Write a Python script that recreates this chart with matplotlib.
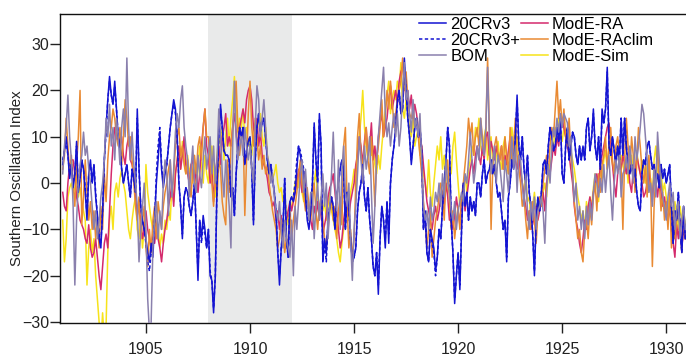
import numpy as np
import matplotlib
matplotlib.use("Agg")
import matplotlib.pyplot as plt

plt.rcParams['font.family'] = ['Liberation Sans', 'DejaVu Sans']

start_year = 1901
shade_span = (1908, 1912)
xticks = [1905, 1910, 1915, 1920, 1925, 1930]
yticks = [-30, -20, -10, 0, 10, 20, 30]
ylabel = "Southern Oscillation Index"

cr3 = [
    4, 7, 10, 6, 1, 4, -1, 2, 9, -2, 1, 5,
    3, -2, -8, 2, 5, 0, 4, -3, -7, -12, -14, -6,
    5, 12, 18, 23, 19, 17, 22, 16, 10, 8, 3, 0,
    2, 4, 0, -3, 3, 1, -2, 16, 3, -5, -8, -10,
    -12, -15, -17, -13, -16, -8, 0, 5, 11, 3, -1, 2,
    4, 8, 12, 15, 18, 16, 10, 0, -5, -12, -3, -1,
    -2, -5, -7, -4, 0, -10, -21, -8, -12, -7, -10, -14,
    -10, -20, -21, -28, -20, 0, 10, 17, 12, 7, 6, 6,
    5, -3, -1, -7, 2, 8, 12, 10, 12, 4, 7, 9,
    10, 3, -9, 5, 12, 15, 11, 13, 14, 10, 5, 2,
    4, 1, -2, -6, -15, -22, -14, -10, 1, -12, -16, -4,
    -3, -4, -2, 3, 8, 6, 4, 2, -3, -8, -10, -6,
    0, 13, 5, 0, 15, 8, -17, -12, -15, -8, -5, -3,
    -5, -10, -3, 0, 3, 5, 3, -10, -2, -5, -12, -17,
    -16, -14, -6, -2, 0, 4, -3, -6, -1, -8, -12, -18,
    -20, -15, -24, -12, -5, -8, -14, -4, -13, 0, 5, 8,
    12, 18, 20, 15, 16, 27, 20, 14, 10, 4, 8, 12,
    14, 10, 12, 7, -10, -6, -15, -17, -10, -12, -14, -19,
    -16, -10, -12, -5, 0, 5, 12, 8, -8, -15, -26, -20,
    -15, -23, -10, 0, -5, -2, -8, -3, -6, -4, -7, 0,
    0, -3, 2, 5, 0, 2, 3, 5, 2, 4, 0, -3,
    -2, -6, -10, -8, -17, -3, 0, 5, 3, 10, 19, 8,
    5, 10, 3, 0, 6, -2, -5, -11, -20, -8, -3, -6,
    -2, 4, 5, 2, 8, 12, 10, 7, 8, 12, 9, 14,
    2, 0, 8, 12, 5, 8, 11, 10, 6, 4, 8, 5,
    8, 5, 12, 14, 7, 10, 16, 8, 5, 10, 3, 16,
    13, 16, 25, 8, 6, 10, 7, 4, 8, 5, 14, 6,
    14, 8, 3, 2, 4, 1, 3, -2, -5, -6, 2, 5,
    4, 8, 9, 6, 3, 4, 0, 2, -1, 4, 1, 3,
    0, 2, 4, -5, -13, -6, -8, -2, -10, -15, -5, -12,
]

cr3p = [
    5, 7, 9, 6, 2, 4, 0, 2, 8, -1, 1, 5,
    3, -1, -7, 2, 4, 0, 4, -2, -7, -11, -13, -6,
    5, 11, 18, 22, 19, 17, 21, 16, 10, 8, 3, 0,
    2, 4, 0, -3, 3, 1, -2, 14, 3, -5, -8, -10,
    -13, -17, -19, -15, -14, -8, 2, 8, 12, 4, 0, 3,
    4, 8, 12, 15, 17, 15, 10, 0, -5, -11, -3, -1,
    -2, -5, -7, -4, 0, -10, -19, -8, -13, -9, -11, -14,
    -10, -19, -21, -27, -20, 0, 10, 16, 12, 7, 6, 6,
    5, -3, -1, -7, 2, 8, 12, 10, 12, 4, 7, 9,
    10, 3, -8, 5, 12, 15, 11, 13, 14, 10, 5, 2,
    4, 1, -2, -6, -15, -20, -14, -10, 1, -12, -16, -4,
    -3, -3, 0, 5, 8, 7, 5, 3, -2, -7, -9, -5,
    0, 12, 5, 0, 14, 8, -17, -13, -17, -8, -5, -3,
    -5, -10, -3, 0, 3, 5, 3, -10, -2, -5, -12, -17,
    -16, -14, -6, -2, 0, 4, -3, -6, -1, -8, -12, -18,
    -20, -15, -22, -12, -5, -8, -12, -4, -11, 0, 5, 8,
    12, 17, 20, 15, 16, 25, 20, 14, 10, 5, 8, 12,
    14, 10, 12, 7, -10, -6, -15, -17, -10, -13, -15, -20,
    -16, -10, -12, -5, 0, 5, 12, 8, -8, -15, -25, -20,
    -15, -22, -10, 0, -5, -2, -8, -3, -6, -4, -7, 0,
    0, -3, 2, 5, 0, 2, 3, 5, 2, 4, 0, -3,
    -2, -6, -10, -8, -16, -3, 0, 5, 3, 10, 18, 8,
    5, 10, 3, 0, 6, -2, -5, -11, -19, -8, -3, -6,
    -2, 4, 5, 2, 8, 12, 10, 7, 8, 12, 9, 14,
    2, 0, 8, 12, 5, 8, 11, 10, 6, 4, 8, 5,
    8, 5, 12, 14, 7, 10, 15, 8, 5, 10, 3, 15,
    13, 16, 24, 8, 6, 10, 7, 4, 8, 5, 14, 6,
    14, 8, 3, 2, 4, 1, 3, -2, -5, -6, 2, 5,
    4, 8, 9, 6, 3, 4, 0, 2, -1, 4, 1, 3,
    0, 2, 4, -5, -13, -6, -8, -2, -10, -15, -5, -12,
]

bom = [
    2, 8, 12, 19, 10, 5, -5, -22, -8, 0, 4, 6,
    11, 6, 8, 3, 0, -5, -10, -6, -12, -8, -3, 0,
    5, 14, 10, 17, 8, 12, 5, 14, 10, 4, 12, 16,
    10, 27, 12, 5, 11, 4, 0, -5, -17, -10, -5, 0,
    -10, -25, -32, -30, -14, -8, -4, -12, -6, -10, 0, 5,
    2, -7, 5, -3, 3, 11, 15, 12, 18, 21, 12, 8,
    5, -3, 3, 8, 0, -2, 6, 2, -1, 5, 10, 3,
    6, 10, 2, 8, 0, 5, 16, 10, 2, -3, 5, 0,
    -5, -14, 8, 22, 10, 5, 8, 10, 6, 12, 8, 5,
    8, 3, 0, 12, 21, 18, 10, 14, 18, 12, 6, 4,
    0, 2, -3, -6, -8, -4, -10, -14, -8, -12, -14, -16,
    -8, -20, -5, -10, -4, 2, 5, -2, 3, -3, -8, -2,
    -2, -12, -5, 0, -8, -3, 2, -5, 0, -12, -5, 2,
    11, 0, -6, 5, -10, 3, 8, -2, -5, 0, -12, -21,
    -10, -5, 2, 10, 5, 0, 8, 3, 6, 10, -2, -13,
    -5, 5, 10, 15, 20, 25, 15, 10, 13, 8, 12, 15,
    10, 15, 8, 12, 20, 26, 18, 20, 15, 11, 18, 12,
    14, 10, 15, 5, -5, -8, -6, -10, -3, -8, -6, -2,
    -4, 0, -5, 2, -3, 5, 0, -2, -6, -8, -4, -10,
    -6, -4, -2, -4, 2, 0, 5, 11, 5, 0, 3, 8,
    5, 14, 8, 6, 12, 25, 10, 2, 5, 8, 0, 6,
    4, 0, -4, 5, 2, -2, 5, 10, 3, 8, -2, 6,
    5, 0, -5, 2, -6, -10, -4, -8, -3, -10, -6, -5,
    -3, -6, -13, -2, 4, 0, 8, 12, 10, 14, 11, 15,
    12, 15, 14, 13, 8, 10, 2, -4, 0, -8, -5, -10,
    -6, -12, -5, -9, -4, -8, -2, 2, 0, -3, 1, -2,
    4, -2, 3, 6, -2, -8, 0, 5, 2, 6, -3, 2,
    3, 6, 2, 8, 4, 0, 10, 5, 8, 12, 17, 15,
    10, 5, -2, 0, -5, 3, -3, 11, 5, 0, -3, -5,
    -8, -3, 0, -5, -2, -10, -6, -4, -12, -8, -5, -10,
]

mode_ra = [
    -2, -5, -6, 0, 4, 5, 5, 2, -3, -5, -8, -9,
    -10, -12, -13, -9, -14, -16, -15, -12, -16, -20, -23, -18,
    -13, -11, -14, -6, 2, 8, 12, 10, 9, 8, 10, 6,
    4, 8, 10, 5, 4, 2, -3, -7, -5, -8, -12, -10,
    -6, -10, -12, -14, -11, -13, -9, -12, -14, -17, -13, -10,
    -8, -5, -3, 0, -5, 2, 5, 8, 3, 6, 10, 4,
    2, 0, 4, 5, 0, 3, -2, 2, 8, 12, 16, 8,
    6, 0, 3, -4, 2, 5, 8, 4, 10, 12, 15, 8,
    10, 8, 12, 15, 11, 7, 12, 14, 16, 13, 18, 20,
    21, 18, 12, 10, 14, 8, 11, 6, 4, 3, 1, -2,
    -3, -5, -4, -8, -6, -10, -7, -11, -9, -8, -6, -4,
    -6, -4, -2, 0, 3, 1, -2, 2, 0, -3, -6, -8,
    -10, -5, -7, -4, -8, -5, -11, -9, -7, -3, -1, 0,
    2, -2, -6, -10, -14, -12, -8, -5, -3, -7, -4, -2,
    0, 4, 6, 10, 8, 4, 9, 12, 6, 8, 13, 5,
    8, 4, 10, 13, 15, 10, 12, 14, 18, 21, 16, 18,
    20, 17, 22, 24, 25, 22, 18, 20, 16, 19, 14, 17,
    15, 12, 10, 8, 4, 0, -4, -6, -8, -10, -7, -5,
    -8, -6, -3, -2, -5, 0, -3, -8, -5, -10, -7, -3,
    -6, -9, -4, -2, -6, -3, 0, 3, 5, 2, 6, 8,
    6, 4, 8, 5, 10, 11, 6, 9, 7, 5, 8, 6,
    5, 8, 3, 6, 4, 7, 10, 6, 8, 5, 3, 6,
    2, 0, -3, -5, -8, -6, -10, -7, -9, -5, -8, -6,
    -4, -2, -6, 0, 3, 2, 5, 8, 6, 10, 8, 12,
    14, 12, 10, 8, 6, 3, 0, -5, -8, -10, -13, -15,
    -12, -8, -10, -5, -3, -6, -2, 0, 2, -1, 4, 6,
    8, 10, 12, 13, 9, 4, 0, -3, 2, 5, 3, 6,
    4, 2, 5, 0, -2, 3, 1, 6, 4, 2, 0, -3,
    -2, 0, 3, -1, -4, 2, 0, -3, 1, -2, -5, -3,
    -6, -8, -5, -10, -13, -16, -9, -12, -8, -14, -10, -12,
]

mode_raclim = [
    3, 6, 14, 8, 2, 6, 0, -5, 4, 10, 20, -9,
    -3, 5, -2, -8, -4, -10, -6, -12, -8, -14, -5, -10,
    2, -4, 5, 10, 12, 16, 14, 10, 8, 12, 4, 10,
    18, 14, 8, 10, 5, 0, -5, -8, -3, -12, -8, -5,
    -14, -18, -10, -15, -8, -5, -12, -4, -7, -10, -5, -2,
    0, 3, 5, -3, 2, 8, 10, 12, 6, 8, 4, 2,
    5, 0, -3, 3, 6, 2, 8, 10, 5, 12, 16, 10,
    10, 4, 0, -5, 2, -3, 5, 3, -4, -7, -9, 5,
    -2, 8, 12, 18, 22, 12, 6, 10, 12, -7, 5, 15,
    22, 12, 8, 14, 10, 5, 8, 3, 6, 2, 4, 0,
    -3, -6, -8, -10, -14, -12, -8, -10, -15, -12, -13, -6,
    -12, -8, -5, -2, 2, 5, 0, -3, -6, -1, -5, -8,
    -4, 0, -6, -10, -5, -3, -8, -12, -14, -10, -6, -3,
    -8, -5, -12, -6, -3, -9, 8, 12, -5, -14, -10, -16,
    -12, 0, 10, 15, 6, 3, 8, 12, 5, 2, 10, 4,
    -5, 5, 8, 12, 18, 10, 14, 20, 16, 22, 18, 12,
    15, 18, 20, 22, 27, 20, 24, 18, 15, 14, 16, 12,
    14, 10, 6, 2, -4, -8, -14, -10, -6, -16, -12, -8,
    -6, -3, 0, -2, -8, 2, 5, -4, -10, -6, -12, -8,
    -5, -10, -3, 0, 4, 8, 14, 10, 13, 6, 10, 12,
    8, 14, 10, 6, 12, 27, 12, -10, 4, 8, 10, 6,
    5, 8, 3, 10, 6, 2, 12, 4, 8, 14, 6, 3,
    0, -5, -3, -8, -12, -6, -10, -4, -8, -13, -6, -3,
    -5, 0, 3, 6, 2, 8, 12, 10, 16, 22, 14, 18,
    12, 16, 10, 8, 14, 6, 2, -4, -8, -12, -10, -15,
    -17, -10, -8, -12, -5, -9, -3, 0, -6, 2, -2, 4,
    6, 10, 3, 8, 12, 5, 2, 8, 10, 6, 3, -10,
    5, 14, 8, 2, 10, 6, -2, 4, 12, 8, 3, 0,
    4, -3, 6, 0, -18, -5, 2, 8, 0, -6, -2, -8,
    -4, -10, -2, -14, -6, -12, -8, -4, -10, -15, -6, -12,
]

mode_sim = [
    -8, -17, -12, -3, -1, 0, -2, -1, 2, -3, -1, -4,
    -6, -8, -22, -14, -10, -15, -12, -20, -25, -30, -35, -28,
    -34, -31, -15, -8, -5, -10, -2, 0, -3, 1, 3, 0,
    -2, -6, -10, -12, -8, -5, -3, -10, -12, -8, -14, -10,
    4, -2, -5, -8, -10, -6, -12, -9, -14, -11, -13, -8,
    -10, -6, -8, 0, -4, 2, 5, 8, 3, 9, 5, 2,
    6, 2, 4, 0, 5, -2, 3, 8, 4, 0, 6, 2,
    0, 5, 8, 2, -3, 6, 10, 8, 12, 5, 10, 14,
    8, 14, 18, 23, 16, 11, 14, 12, 16, 10, 12, 8,
    10, 6, 12, 8, 11, 14, 15, 10, 8, 12, 6, 4,
    3, 1, 2, 4, 0, -2, -1, -4, -3, -6, -9, -5,
    -5, -3, 0, 2, -1, 3, -2, -4, 0, -3, -6, -4,
    -2, 0, 3, -5, -7, -3, -6, -4, -8, -5, -2, -6,
    -8, -10, -12, -15, -17, -13, -10, -6, -3, -8, -2, 0,
    3, -2, 6, 10, 14, 20, 12, 8, 5, 10, 6, 8,
    4, 2, 6, 3, 8, 12, 16, 19, 22, 15, 18, 20,
    18, 22, 20, 26, 16, 14, 18, 15, 12, 10, 14, 8,
    10, 12, 6, 8, 2, 0, -3, 5, -2, -5, 0, 4,
    8, 5, 10, 3, 6, 0, -2, 4, 2, 8, 11, 5,
    0, -5, -3, -1, 2, -2, 3, 5, 8, 6, 12, 10,
    14, 8, 6, 10, 12, 5, 8, 10, 4, 2, 6, 9,
    5, 3, 8, 10, 4, 2, 6, 12, 8, 5, 10, 6,
    3, 0, -2, 2, -4, -3, -8, -5, -2, -6, -4, -3,
    -5, -2, 0, -3, 2, 4, 6, 8, 12, 10, 14, 11,
    9, 12, 10, 8, 11, 7, 5, 3, 0, -3, -5, -8,
    -6, -10, -4, -7, -3, -5, -1, 2, 0, -4, 3, 1,
    5, 7, 3, 9, 6, 4, 2, 5, 8, 3, 6, 4,
    2, 5, 0, 4, 6, 3, 1, 7, 4, 2, 5, 3,
    0, 4, -2, 1, -3, 5, 8, 2, -1, 3, -2, 0,
    -3, -6, -2, -5, -8, -4, -7, -10, -5, -8, -6, -9,
]

series = [
    ("20CRv3", cr3, "#1414d2", "-", 1.1, 6),
    ("20CRv3+", cr3p, "#1414d2", (0, (2.2, 1.6)), 1.1, 5),
    ("BOM", bom, "#8a80ad", "-", 1.1, 7),
    ("ModE-RA", mode_ra, "#d42a6c", "-", 1.1, 3),
    ("ModE-RAclim", mode_raclim, "#e98a33", "-", 1.1, 4),
    ("ModE-Sim", mode_sim, "#f7e31a", "-", 1.1, 2),
]

W, H = 686, 356
fig = plt.figure(figsize=(W / 100, H / 100), dpi=100)
ax = fig.add_axes([60 / W, 1 - 323 / H, (686 - 60) / W, (323 - 14) / H])

n = len(cr3)
t = start_year + np.arange(n) / 12.0

ax.axvspan(shade_span[0], shade_span[1], color="#e9eaea", zorder=0, lw=0)

handles = {}
for name, vals, col, ls, lw, z in series:
    (h,) = ax.plot(t[:len(vals)], vals, color=col, ls=ls, lw=lw, zorder=z, label=name)
    handles[name] = h

ax.set_xlim(1900.87, 1930.95)
ax.set_ylim(-30.2, 36.5)
ax.set_xticks(xticks)
ax.set_yticks(yticks)
ax.tick_params(axis="both", direction="out", length=7, width=1, labelsize=11.5, colors="#222222")
ax.tick_params(axis="x", pad=6.5)
ax.tick_params(axis="y", pad=1)
ax.set_ylabel(ylabel, fontsize=10.8, color="#222222")
ax.yaxis.set_label_coords(-0.057, 0.47)
for s in ["left", "bottom", "top"]:
    ax.spines[s].set_linewidth(1.0)
    ax.spines[s].set_color("#111111")
ax.spines["right"].set_visible(False)

order = ["20CRv3", "20CRv3+", "BOM", "ModE-RA", "ModE-RAclim", "ModE-Sim"]
leg = ax.legend([handles[k] for k in order], order, ncol=2, frameon=False,
                loc="upper right", bbox_to_anchor=(654 / W, 1 - 17 / H),
                bbox_transform=fig.transFigure, fontsize=12,
                handlelength=1.6, handletextpad=0.25, columnspacing=0.05,
                labelspacing=0.05, borderaxespad=0.0, borderpad=0.0)

fig.savefig("out.png", dpi=100)
